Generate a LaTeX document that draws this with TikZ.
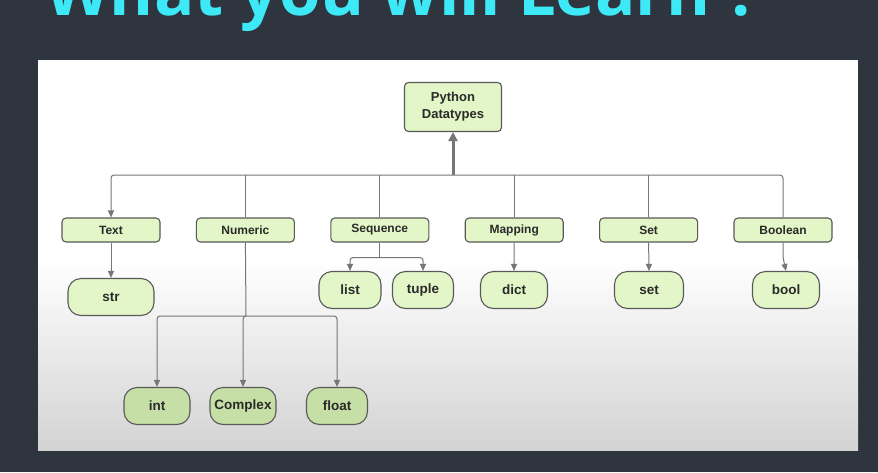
\documentclass[tikz,border=0pt]{standalone}
\usepackage{fontspec}
\setmainfont{Liberation Sans}
\newfontfamily\titlefont{Open Sans}
\usetikzlibrary{positioning, calc, arrows.meta}
\definecolor{Slate}{HTML}{2E353F}
\definecolor{Cyan}{HTML}{3DE9F7}
\definecolor{Leaf}{HTML}{E2F6C8}
\definecolor{DeepLeaf}{HTML}{C6DFA6}
\definecolor{Edge}{HTML}{595959}
\definecolor{Wire}{HTML}{767676}
\definecolor{Ink}{HTML}{2A2A2A}
\definecolor{Fade}{HTML}{D3D3D3}
\tikzset{
    catnode/.style={rectangle, rounded corners=4pt, draw=Edge, line width=1.1pt, fill=Leaf, text=Ink, minimum width=98pt, minimum height=24pt, inner sep=2pt, font=\bfseries\fontsize{12}{14}\selectfont},
    rootnode/.style={catnode, minimum width=97pt, minimum height=49pt, align=center, font=\bfseries\fontsize{13}{17}\selectfont},
    leafnode/.style={rectangle, rounded corners=13pt, draw=Edge, line width=1.1pt, fill=Leaf, text=Ink, minimum height=37pt, inner sep=2pt, font=\bfseries\fontsize{13.5}{15}\selectfont},
    deepnode/.style={leafnode, fill=DeepLeaf},
    wire/.style={draw=Wire, line width=1pt, rounded corners=3pt},
    arrow/.style={wire, -{Triangle[length=7pt, width=6pt]}},
}

\begin{document}
\begin{tikzpicture}[x=1pt, y=-1pt]
    \useasboundingbox (0,0) rectangle (878,472);
    \clip (0,0) rectangle (878,472);
    \fill[Slate] (0,0) rectangle (878,472);
    \node[anchor=base west, inner sep=0pt, text=Cyan, font=\titlefont\bfseries\fontsize{67}{70}\selectfont] (title) at (45,15) {What you will Learn ?};

    % panel
    \fill[white] (38,60) rectangle (858,450);
    \shade[top color=white, bottom color=Fade] (38,260) rectangle (858,450);

    \node[rootnode] (root) at (453,107) {Python\\Datatypes};
    \foreach \lbl [count=\i from 0] in {Text, Numeric, Sequence, Mapping, Set, Boolean}
        \node[catnode] (\lbl) at (111+134.4*\i, 230) {\lbl};

    \node[leafnode, minimum width=86pt] (str) at (111,297) {str};
    \node[leafnode, minimum width=62pt] (list) at (350,290) {list};
    \node[leafnode, minimum width=61pt] (tuple) at (423,290) {tuple};
    \node[leafnode, minimum width=67pt] (dict) at (514,290) {dict};
    \node[leafnode, minimum width=69pt] (set) at (649,290) {set};
    \node[leafnode, minimum width=67pt] (bool) at (786,290) {bool};
    \node[deepnode, minimum width=66pt] (int) at (157,406) {int};
    \node[deepnode, minimum width=66pt] (Complex) at (243,406) {Complex};
    \node[deepnode, minimum width=61pt] (float) at (337,406) {float};

    % connectors
    \coordinate (hub) at (453,175);
    \coordinate (split) at (246,316);
    \coordinate (fork) at ($(Sequence.south)+(0,15)$);
    \draw[wire, line width=3pt, -{Triangle[length=9pt, width=9pt]}] (hub) -- (root.south);
    \draw[arrow] (hub) -| (Text.north);
    \draw[wire] (hub) -| (Boolean.north);
    \foreach \c in {Numeric, Sequence, Mapping, Set}
        \draw[wire] (\c.north |- hub) -- (\c.north);

    \draw[arrow] (Text.south) -- (str.north);
    \draw[wire] (Sequence.south) -- (fork);
    \foreach \d in {list, tuple} \draw[arrow] (fork) -| (\d.north);
    \draw[arrow] (Mapping.south) -- (dict.north);
    \draw[arrow] (Set.south) -- (set.north);
    \draw[arrow] (Boolean.south) -- ++(0,15) -- (bool.north);
    \draw[wire] (Numeric.south) -- (split);
    \foreach \d in {int, Complex, float} \draw[arrow] (split) -| (\d.north);
\end{tikzpicture}
\end{document}
